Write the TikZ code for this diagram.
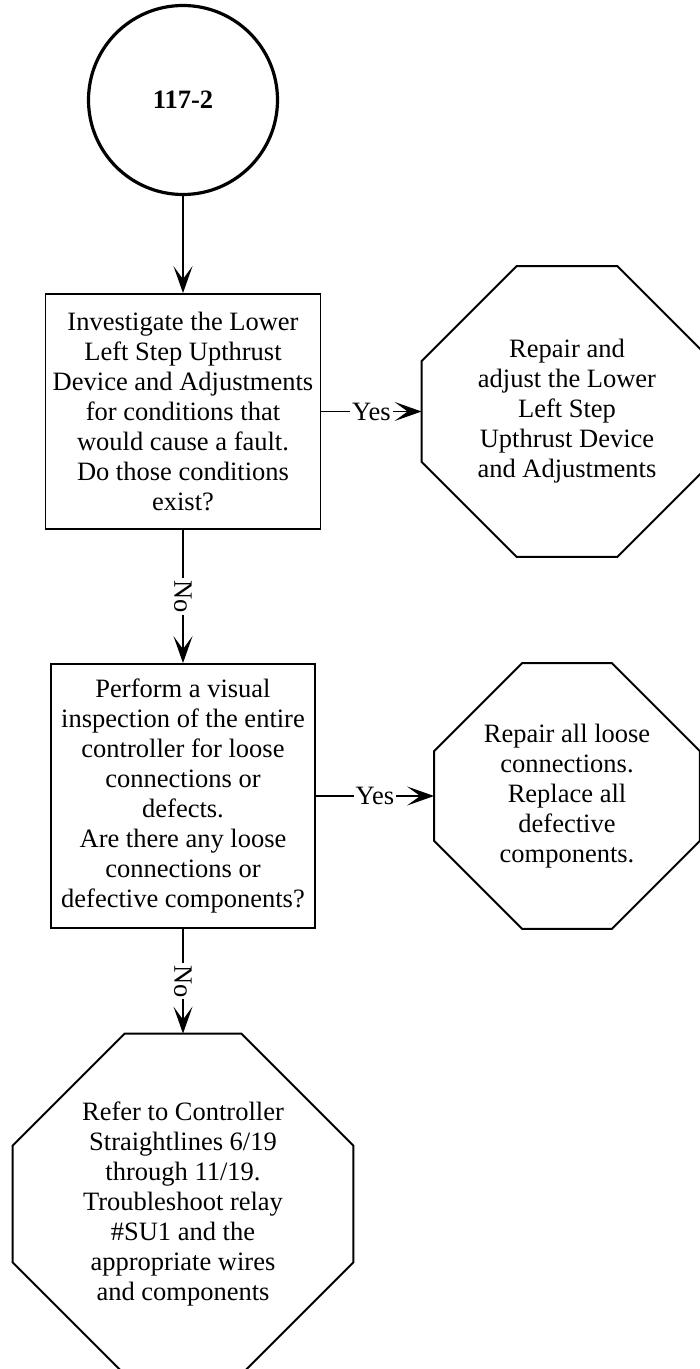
\documentclass[tikz,border=0pt]{standalone}
\usepackage{fontspec}
\setmainfont{Liberation Serif}
\usetikzlibrary{arrows.meta}

\begin{document}
\begin{tikzpicture}[
    x=0.5pt, y=-0.5pt,
    every node/.style={font=\fontsize{13.25}{15}\selectfont},
    start/.style={circle, draw, line width=1.6pt, minimum size=94.5pt, inner sep=0pt,
        font=\fontsize{13.25}{15}\selectfont\bfseries},
    box/.style={rectangle, draw, line width=0.9pt, align=center, inner sep=0pt},
    % octagon: square node of side #1, corners cut by #2
    stop/.style 2 args={rectangle, align=center, inner sep=0pt,
        minimum width=#1, minimum height=#1,
        append after command={\pgfextra{
            \draw[line width=1pt]
                ([xshift=#2]\tikzlastnode.north west) -- ([xshift=-#2]\tikzlastnode.north east)
             -- ([yshift=-#2]\tikzlastnode.north east) -- ([yshift=#2]\tikzlastnode.south east)
             -- ([xshift=-#2]\tikzlastnode.south east) -- ([xshift=#2]\tikzlastnode.south west)
             -- ([yshift=#2]\tikzlastnode.south west) -- ([yshift=-#2]\tikzlastnode.north west)
             -- cycle;}}},
    arr/.style={-{Stealth[length=13.5pt, width=9.5pt, inset=6.5pt]}, line width=0.65pt},
    lbl/.style={fill=white, inner sep=1pt},
]
    \useasboundingbox (0,0) rectangle (700,1369);

    \node[start] (start) at (183, 100) {117-2};

    \node[box, minimum width=137.5pt, minimum height=117.5pt] (chk1) at (183, 411.5)
        {Investigate the Lower\\
         Left Step Upthrust\\
         Device and Adjustments\\
         for conditions that\\
         would cause a fault.\\
         Do those conditions\\
         exist?};

    \node[stop={145pt}{47.5pt}] (fix1) at (567, 411.5)
        {Repair and\\
         adjust the Lower\\
         Left Step\\
         Upthrust Device\\
         and Adjustments};

    \node[box, minimum width=132pt, minimum height=132pt] (chk2) at (183, 796)
        {Perform a visual\\
         inspection of the entire\\
         controller for loose\\
         connections or\\
         defects.\\
         Are there any loose\\
         connections or\\
         defective components?};

    \node[stop={132.5pt}{44pt}] (fix2) at (567, 796)
        {Repair all loose\\
         connections.\\
         Replace all\\
         defective\\
         components.};

    \node[stop={170pt}{56pt}] (refer) at (183, 1204)
        {Refer to Controller\\
         Straightlines 6/19\\
         through 11/19.\\
         Troubleshoot relay\\
         \#SU1 and the\\
         appropriate wires\\
         and components};

    \draw[arr] (start) -- (chk1);
    \draw[arr] (chk1) -- node[lbl] {Yes} (fix1);
    \draw[arr] (chk1) -- node[lbl, sloped] {No} (chk2);
    \draw[arr] (chk2) -- node[lbl] {Yes} (fix2);
    \draw[arr] (chk2) -- node[lbl, sloped] {No} (refer);
\end{tikzpicture}
\end{document}
